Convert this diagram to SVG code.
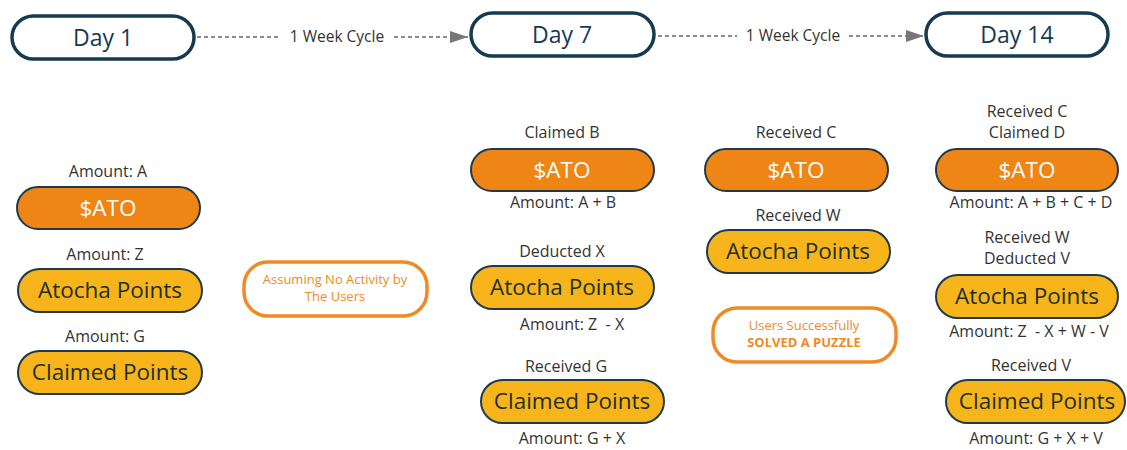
<svg xmlns="http://www.w3.org/2000/svg" width="1127" height="450" viewBox="0 0 1127 450">
<style>
text{font-family:"Open Sans","Noto Sans","Liberation Sans",sans-serif;text-anchor:middle}
.day rect{fill:#fff;stroke:#163a52;stroke-width:3.5}
.day text{font-size:23px;fill:#163a52}
.ato rect{fill:#ef8514;stroke:#1f3a4c;stroke-width:2}
.ato text{font-size:22.5px;fill:#fff}
.pts rect{fill:#f7b51b;stroke:#1f3a4c;stroke-width:2}
.pts text{font-size:22.5px;fill:#1e2f17}
.lbl{font-size:16px;fill:#333;white-space:pre}
.note rect{fill:#fff;stroke:#f08a24;stroke-width:3.5}
.note text{font-size:13px;fill:#f08a24}
.edge{stroke:#666;stroke-width:1.3;stroke-dasharray:4 3;fill:none}
.elbl{font-size:15.5px;fill:#333}
</style>
<defs>
<marker id="ah" markerWidth="18" markerHeight="12" refX="18" refY="6" orient="auto" markerUnits="userSpaceOnUse">
<path d="M0,0 L18,6 L0,12 z" fill="#777"/>
</marker>
</defs>

<g id="connectors">
<path class="edge" d="M197,37 H281"/>
<text class="elbl" x="337" y="42">1 Week Cycle</text>
<path class="edge" d="M394,37 H468" marker-end="url(#ah)"/>
<path class="edge" d="M658,36 H737"/>
<text class="elbl" x="793" y="41">1 Week Cycle</text>
<path class="edge" d="M849,36 H924" marker-end="url(#ah)"/>
</g>

<g id="day1" class="day"><rect x="12" y="16" width="182" height="43" rx="21.5"/><text x="103" y="46">Day 1</text></g>
<g id="day7" class="day"><rect x="471" y="13" width="183" height="43" rx="21.5"/><text x="562" y="43">Day 7</text></g>
<g id="day14" class="day"><rect x="926" y="13" width="182" height="43" rx="21.5"/><text x="1017" y="43">Day 14</text></g>

<!-- Day 1 column -->
<text class="lbl" x="108" y="177">Amount: A</text>
<g id="ato1" class="ato"><rect x="17" y="187" width="183" height="42" rx="21"/><text x="108" y="216">$ATO</text></g>
<text class="lbl" x="105" y="260">Amount: Z</text>
<g id="pts1" class="pts"><rect x="18" y="269" width="184" height="43" rx="21.5"/><text x="110" y="298">Atocha Points</text></g>
<text class="lbl" x="105" y="342">Amount: G</text>
<g id="claim1" class="pts"><rect x="18" y="351" width="184" height="43" rx="21.5"/><text x="110" y="380">Claimed Points</text></g>

<g id="note1" class="note"><rect x="244" y="262" width="183" height="54" rx="24"/><text x="335" y="284">Assuming No Activity by</text><text x="335" y="301">The Users</text></g>

<!-- Day 7 column -->
<text class="lbl" x="562" y="138">Claimed B</text>
<g id="ato7" class="ato"><rect x="471" y="149" width="183" height="42" rx="21"/><text x="562" y="178">$ATO</text></g>
<text class="lbl" x="563" y="208">Amount: A + B</text>
<text class="lbl" x="562" y="257">Deducted X</text>
<g id="pts7" class="pts"><rect x="471" y="266" width="183" height="43" rx="21.5"/><text x="562" y="295">Atocha Points</text></g>
<text class="lbl" x="572" y="330">Amount: Z  - X</text>
<text class="lbl" x="566" y="372">Received G</text>
<g id="claim7" class="pts"><rect x="481" y="380" width="183" height="43" rx="21.5"/><text x="572" y="409">Claimed Points</text></g>
<text class="lbl" x="572" y="444">Amount: G + X</text>

<!-- Middle column -->
<text class="lbl" x="796" y="138">Received C</text>
<g id="ato10" class="ato"><rect x="705" y="149" width="183" height="42" rx="21"/><text x="796" y="178">$ATO</text></g>
<text class="lbl" x="798" y="221">Received W</text>
<g id="pts10" class="pts"><rect x="707" y="230" width="183" height="43" rx="21.5"/><text x="798" y="259">Atocha Points</text></g>
<g id="note2" class="note"><rect x="713" y="308" width="183" height="54" rx="24"/><text x="804" y="330">Users Successfully</text><text x="804" y="347" font-weight="bold">SOLVED A PUZZLE</text></g>

<!-- Day 14 column -->
<text class="lbl" x="1027" y="117">Received C</text>
<text class="lbl" x="1027" y="138">Claimed D</text>
<g id="ato14" class="ato"><rect x="936" y="149" width="182" height="42" rx="21"/><text x="1027" y="178">$ATO</text></g>
<text class="lbl" x="1031" y="208">Amount: A + B + C + D</text>
<text class="lbl" x="1027" y="243">Received W</text>
<text class="lbl" x="1027" y="264">Deducted V</text>
<g id="pts14" class="pts"><rect x="936" y="275" width="182" height="43" rx="21.5"/><text x="1027" y="304">Atocha Points</text></g>
<text class="lbl" x="1029" y="337">Amount: Z  - X + W - V</text>
<text class="lbl" x="1031" y="371">Received V</text>
<g id="claim14" class="pts"><rect x="946" y="380" width="179" height="43" rx="21.5"/><text x="1037" y="409">Claimed Points</text></g>
<text class="lbl" x="1036" y="444">Amount: G + X + V</text>
</svg>
